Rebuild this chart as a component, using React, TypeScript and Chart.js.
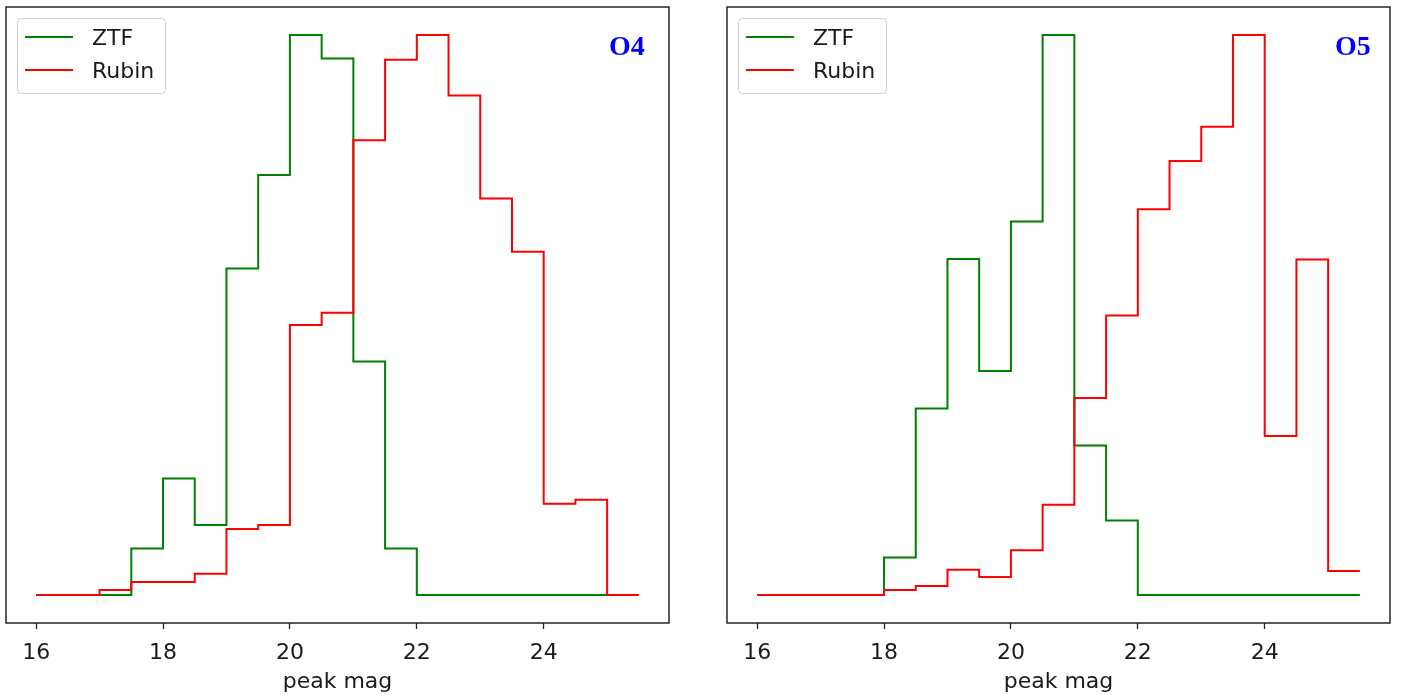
import React, { useEffect, useRef } from "react";
import { Chart, registerables } from "chart.js";

Chart.register(...registerables);

// Histogram bin edges (peak magnitude)
const binEdges = [16, 16.5, 17, 17.5, 18, 18.5, 19, 19.5, 20, 20.5, 21, 21.5, 22, 22.5, 23, 23.5, 24, 24.5, 25, 25.5];
const xTickValues = [16, 18, 20, 22, 24];
const seriesNames = ["ZTF", "Rubin"];
const panelLabels = ["O4", "O5"];

// Relative bin heights (peak = 100), one value per bin starting at binEdges[0]
const o4Ztf = [0, 0, 0, 8.3, 20.8, 12.5, 58.3, 75, 100, 95.8, 41.7, 8.3, 0, 0, 0, 0, 0, 0];
const o4Rubin = [0, 0, 0.9, 2.3, 2.3, 3.8, 11.8, 12.5, 48.2, 50.4, 81.2, 95.6, 100, 89.2, 70.8, 61.3, 16.3, 17.0, 0];
const o5Ztf = [0, 0, 0, 0, 6.7, 33.3, 60, 40, 66.7, 100, 26.7, 13.3, 0, 0, 0, 0, 0, 0, 0];
const o5Rubin = [0, 0, 0, 0, 0.9, 1.6, 4.5, 3.2, 8.0, 16.1, 35.2, 49.9, 68.9, 77.5, 83.6, 100, 28.4, 59.9, 4.3];

const GREEN = "#008000";
const RED = "#ff0000";
const TEXT = "#1a1a1a";
const FONT = "'DejaVu Sans', sans-serif";

function stepPoints(vals: number[]) {
  const pts = vals.map((v, i) => ({ x: binEdges[i], y: v }));
  pts.push({ x: binEdges[vals.length], y: vals[vals.length - 1] });
  return pts;
}

const panelPlugin = {
  id: "panelDecor",
  afterDraw(chart: any) {
    const opts = chart.options.plugins.panelDecor;
    const { ctx, chartArea } = chart;
    const { left, top, right, bottom } = chartArea;
    ctx.save();
    // frame
    ctx.strokeStyle = "#262626";
    ctx.lineWidth = 1.5;
    ctx.strokeRect(left, top, right - left, bottom - top);

    // legend
    const bx = left + 11.5, by = top + 11.5, bw = 148, bh = 75;
    ctx.beginPath();
    const r = 4;
    ctx.moveTo(bx + r, by);
    ctx.lineTo(bx + bw - r, by);
    ctx.quadraticCurveTo(bx + bw, by, bx + bw, by + r);
    ctx.lineTo(bx + bw, by + bh - r);
    ctx.quadraticCurveTo(bx + bw, by + bh, bx + bw - r, by + bh);
    ctx.lineTo(bx + r, by + bh);
    ctx.quadraticCurveTo(bx, by + bh, bx, by + bh - r);
    ctx.lineTo(bx, by + r);
    ctx.quadraticCurveTo(bx, by, bx + r, by);
    ctx.closePath();
    ctx.fillStyle = "rgba(255,255,255,0.8)";
    ctx.fill();
    ctx.strokeStyle = "#cccccc";
    ctx.lineWidth = 1;
    ctx.stroke();

    const items = [
      { name: seriesNames[0], color: GREEN, y: top + 30 },
      { name: seriesNames[1], color: RED, y: top + 63 },
    ];
    ctx.font = `22px ${FONT}`;
    ctx.textBaseline = "middle";
    ctx.textAlign = "left";
    for (const it of items) {
      ctx.strokeStyle = it.color;
      ctx.lineWidth = 2;
      ctx.beginPath();
      ctx.moveTo(left + 19, it.y);
      ctx.lineTo(left + 67, it.y);
      ctx.stroke();
      ctx.fillStyle = TEXT;
      ctx.fillText(it.name, left + 86, it.y + 2);
    }

    // panel label
    ctx.font = "bold 28px 'Liberation Serif', 'Times New Roman', serif";
    ctx.fillStyle = "#0000ff";
    ctx.textBaseline = "alphabetic";
    ctx.fillText(opts.label, left + opts.labelX, top + 48);
    ctx.restore();
  },
};

function makeConfig(ztf: number[], rubin: number[], label: string, labelX: number, padLeft: number, padRight: number) {
  return {
    type: "line" as const,
    data: {
      datasets: [
        {
          label: seriesNames[1],
          data: stepPoints(rubin),
          borderColor: RED,
          borderWidth: 2,
          pointRadius: 0,
          stepped: "before" as const,
          fill: false,
          order: 0,
          borderJoinStyle: "miter" as const,
        },
        {
          label: seriesNames[0],
          data: stepPoints(ztf),
          borderColor: GREEN,
          borderWidth: 2,
          pointRadius: 0,
          stepped: "before" as const,
          fill: false,
          order: 1,
          borderJoinStyle: "miter" as const,
        },
      ],
    },
    options: {
      animation: false,
      responsive: false,
      devicePixelRatio: 1,
      layout: { padding: { left: padLeft, top: 7, right: padRight, bottom: 0 } },
      plugins: {
        legend: { display: false },
        tooltip: { enabled: false },
        panelDecor: { label, labelX },
      },
      scales: {
        x: {
          type: "linear",
          min: 15.525,
          max: 25.975,
          afterBuildTicks: (s: any) => {
            s.ticks = xTickValues.map((v) => ({ value: v }));
          },
          afterFit: (s: any) => {
            s.height = 72;
          },
          ticks: {
            font: { family: FONT, size: 22 },
            color: TEXT,
            padding: 11,
            maxRotation: 0,
            callback: (v: any) => String(v),
          },
          grid: {
            display: true,
            drawOnChartArea: false,
            drawTicks: true,
            tickLength: 6,
            tickColor: "#262626",
            tickWidth: 1.3,
          },
          border: { display: false },
          title: {
            display: true,
            text: "peak mag",
            font: { family: FONT, size: 22 },
            color: TEXT,
            padding: { top: 0, bottom: 0 },
          },
        },
        y: {
          type: "linear",
          display: false,
          min: -5,
          max: 105,
        },
      },
    },
    plugins: [panelPlugin],
  };
}

function Panel(props: { ztf: number[]; rubin: number[]; label: string; labelX: number; left: number; width: number; padLeft: number; padRight: number }) {
  const ref = useRef<HTMLCanvasElement | null>(null);
  useEffect(() => {
    if (!ref.current) return;
    const chart = new Chart(ref.current, makeConfig(props.ztf, props.rubin, props.label, props.labelX, props.padLeft, props.padRight) as any);
    return () => chart.destroy();
  }, []);
  return (
    <canvas
      ref={ref}
      width={props.width}
      height={695}
      style={{ position: "absolute", left: props.left, top: 0, width: props.width, height: 695, display: "block" }}
    />
  );
}

export default function App() {
  return (
    <div style={{ position: "absolute", left: 0, top: 0, width: 1410, height: 695, background: "#fff" }}>
      <Panel ztf={o4Ztf} rubin={o4Rubin} label={panelLabels[0]} labelX={603} left={0} width={700} padLeft={6} padRight={31} />
      <Panel ztf={o5Ztf} rubin={o5Rubin} label={panelLabels[1]} labelX={608} left={700} width={710} padLeft={27} padRight={20} />
    </div>
  );
}
